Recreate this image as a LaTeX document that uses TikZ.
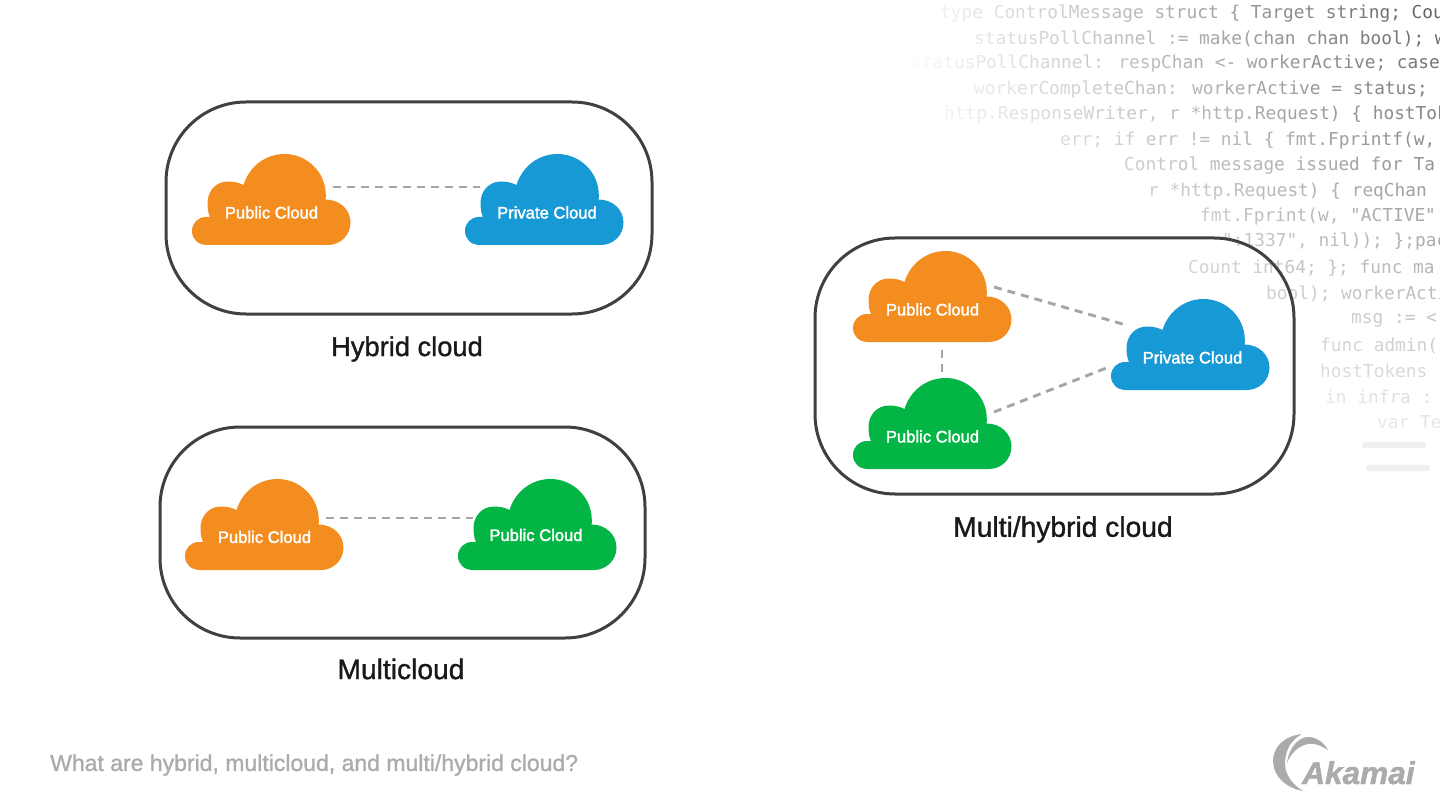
\documentclass[tikz,border=0pt]{standalone}
\usepackage{fontspec}
\usetikzlibrary{fadings,calc}
\setmainfont{Liberation Sans}
\newfontfamily\codefont{DejaVu Sans Mono}
\newfontfamily\labelfont[FakeBold=1.1]{Liberation Sans}
\newfontfamily\cloudfont[FakeBold=2]{Liberation Sans}
\newfontfamily\logofont[FakeBold=1.5]{Liberation Sans Bold Italic}
\definecolor{cloudorange}{HTML}{F48D20}
\definecolor{cloudblue}{HTML}{1799D5}
\definecolor{cloudgreen}{HTML}{03B545}
\definecolor{boxline}{HTML}{404040}
\definecolor{dashline}{HTML}{A8A4A4}
\definecolor{muted}{HTML}{ABABAB}
\definecolor{codegray}{HTML}{5E5E5E}
\tikzfading[name=codeh, left color=transparent!0, middle color=transparent!45, right color=transparent!100]
\tikzfading[name=codev, top color=transparent!100, middle color=transparent!45, bottom color=transparent!0]
\tikzset{
  x=1pt, y=-1pt,
  groupbox/.style={draw=boxline, line width=3pt, rounded corners=80pt},
  conn/.style={draw=dashline, line width=2.9pt, dash pattern=on 8pt off 6pt},
  cloudtext/.style={text=white, inner sep=0pt, font=\cloudfont\fontsize{16.6}{18}\selectfont},
  grouplabel/.style={text=black!90, inner sep=0pt, font=\labelfont\fontsize{28.2}{30}\selectfont},
  codetext/.style={text=codegray, anchor=west, inner sep=0pt, yshift=-2pt, font=\codefont\fontsize{17.8}{20}\selectfont},
  pics/cloudshape/.style={code={
    \fill[#1] (15,0) -- (136,0)
      .. controls (148.5,0) and (158.5,-10) .. (158.5,-22.5)
      .. controls (158.5,-35) and (148,-45.5) .. (133.5,-45.5)
      .. controls (134,-47) and (133.8,-49) .. (133.8,-50)
      .. controls (133.8,-72.6) and (115,-91) .. (92.5,-91)
      .. controls (73,-91) and (57,-78) .. (51.5,-60)
      .. controls (47,-62.5) and (41,-63.5) .. (36,-63.5)
      .. controls (24,-63.5) and (15.5,-54) .. (15.5,-42)
      .. controls (15.5,-37) and (16,-32) .. (18,-28)
      -- (14,-28)
      .. controls (6,-28) and (0,-22) .. (0,-14)
      .. controls (0,-6) and (6,0) .. (15,0) -- cycle;
    \coordinate (-e) at (141,-58);
    \coordinate (-w) at (15,-58);
    \coordinate (-t) at (89,-91);
    \coordinate (-b) at (89,8);
  }}
}
\newcommand{\codeline}[4]{\node[codetext] (#1) at (#2,#3) {#4};}
\begin{document}
\begin{tikzpicture}
\useasboundingbox (0,0) rectangle (1440,810);
\fill[white] (0,0) rectangle (1440,810);
\begin{scope}
\clip (0,0) rectangle (1440,810);
\codeline{code1}{940}{12}{type ControlMessage struct \{ Target string; Cou}
\codeline{code2}{974}{37}{statusPollChannel := make(chan chan bool); w}
\codeline{code3}{911}{62}{statusPollChannel: respChan <- workerActive; case}
\codeline{code4}{974}{88}{workerCompleteChan: workerActive = status;}
\codeline{code5}{944}{113}{http.ResponseWriter, r *http.Request) \{ hostTok}
\codeline{code6}{1060}{139}{err; if err != nil \{ fmt.Fprintf(w,}
\codeline{code7}{1124}{164}{Control message issued for Ta}
\codeline{code8}{1148}{190}{r *http.Request) \{ reqChan}
\codeline{code9}{1200}{215}{fmt.Fprint(w, "ACTIVE"}
\codeline{code10}{1222}{240}{":1337", nil)); \};pac}
\codeline{code11}{1188}{266}{Count int64; \}; func ma}
\codeline{code12}{1266}{292}{bool); workerActi}
\codeline{code13}{1351}{318}{msg := <}
\codeline{code14}{1320}{344}{func admin(}
\codeline{code15}{1320}{369}{hostTokens}
\codeline{code16}{1325}{395}{in infra :}
\codeline{code17}{1377}{420}{var Te}
\fill[white] (760,-1) rectangle (900,500);
\fill[white, path fading=codeh] (899,-1) rectangle (1441,500);
\fill[white, path fading=codev] (760,-1) rectangle (1441,500);
\end{scope}
\fill[black!6, rounded corners=2pt] (1362,442) rectangle (1426,448);
\fill[black!6, rounded corners=2pt] (1366,465) rectangle (1430,471);

% Hybrid cloud
\draw[groupbox] (166,102) rectangle (652,314);
\pic (h1) at (192,245) {cloudshape=cloudorange};
\pic (h2) at (465,245) {cloudshape=cloudblue};
\node[cloudtext] (h1t) at (271.5,212.5) {Public Cloud};
\node[cloudtext] (h2t) at (547,212.5) {Private Cloud};
\draw[conn] (h1-e) -- (h2-w);
\node[grouplabel, font=\labelfont\fontsize{27.3}{30}\selectfont] (hl) at (407,349) {Hybrid cloud};

% Multicloud
\draw[groupbox] (160,427) rectangle (645,638);
\pic (c1) at (185,570) {cloudshape=cloudorange};
\pic (c2) at (458,570) {cloudshape=cloudgreen};
\node[cloudtext] (c1t) at (264.5,537) {Public Cloud};
\node[cloudtext] (c2t) at (536,535) {Public Cloud};
\draw[conn] ([yshift=-6pt]c1-e) -- ([yshift=-6pt]c2-w);
\node[grouplabel] (cl) at (401,669) {Multicloud};

% Multi/hybrid cloud
\draw[groupbox] (815,238) rectangle (1294,494);
\pic (m1) at (853,342) {cloudshape=cloudorange};
\pic (m2) at (853,469) {cloudshape=cloudgreen};
\pic (m3) at (1111,390) {cloudshape=cloudblue};
\node[cloudtext] (m1t) at (932.5,309.5) {Public Cloud};
\node[cloudtext] (m2t) at (932.5,436.5) {Public Cloud};
\node[cloudtext] (m3t) at (1192.5,357.5) {Private Cloud};
\draw[conn] ([yshift=-3pt]m1-e) -- ([yshift=7pt]m3-w);
\draw[conn] ([yshift=-1pt]m2-e) -- ([xshift=-17pt,yshift=-35pt]m3-w);
\draw[conn] (m1-b) -- (m2-t);
\node[grouplabel] (ml) at (1063,529.5) {Multi/hybrid cloud};

% Footer
\node[text=muted, anchor=west, inner sep=0pt, font=\labelfont\fontsize{23}{26}\selectfont] (foot) at (50,765) {What are hybrid, multicloud, and multi/hybrid cloud?};

% Logo
\fill[muted] (1302,734) .. controls (1284,736) and (1273,747) .. (1273,761)
  .. controls (1273,776) and (1286,788) .. (1303,791)
  .. controls (1293,785) and (1285,775) .. (1285,764)
  .. controls (1285,750) and (1291,740) .. (1302,734) -- cycle;
\fill[muted] (1287,763) .. controls (1289,746) and (1300,736) .. (1310,737)
  .. controls (1318,738) and (1325,744) .. (1328,750)
  .. controls (1320,745) and (1314,743) .. (1308,744)
  .. controls (1298,746) and (1291,753) .. (1287,763) -- cycle;
\node[text=muted, anchor=base west, inner sep=0pt, font=\logofont\fontsize{31.6}{34}\selectfont] (logo) at (1302,784) {Akamai};
\end{tikzpicture}
\end{document}
